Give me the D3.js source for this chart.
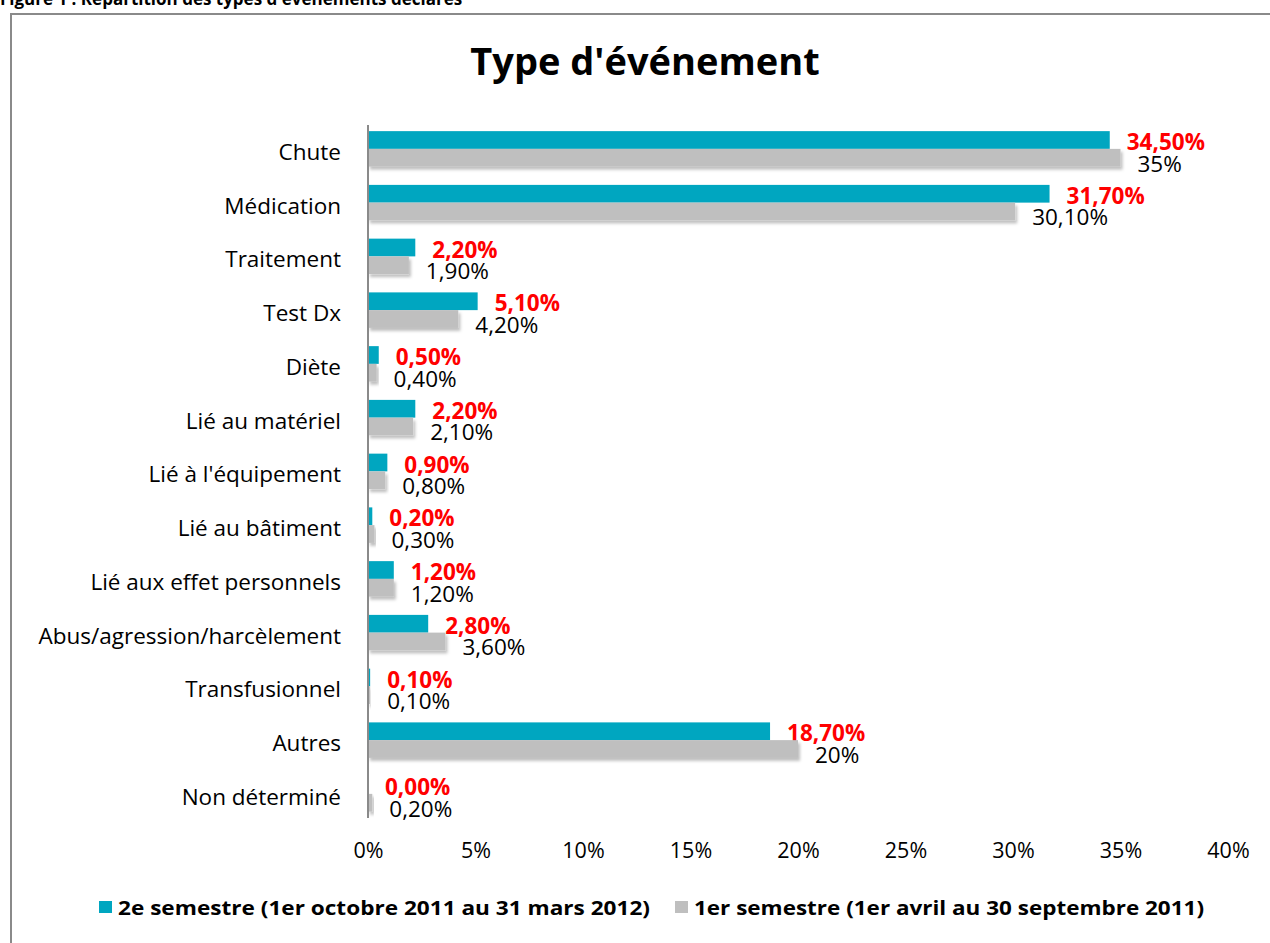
<!DOCTYPE html>
<html><head><meta charset="utf-8">
<script src="https://cdnjs.cloudflare.com/ajax/libs/d3/7.8.5/d3.min.js"></script>
<style>body{margin:0;background:#fff;}svg{display:block;}</style>
</head><body>
<script>
const categories = ["Chute","Médication","Traitement","Test Dx","Diète","Lié au matériel","Lié à l'équipement","Lié au bâtiment","Lié aux effet personnels","Abus/agression/harcèlement","Transfusionnel","Autres","Non déterminé"];
const semestre2 = [34.5,31.7,2.2,5.1,0.5,2.2,0.9,0.2,1.2,2.8,0.1,18.7,0.0];
const semestre1 = [35,30.1,1.9,4.2,0.4,2.1,0.8,0.3,1.2,3.6,0.1,20,0.2];
const labels2 = ["34,50%","31,70%","2,20%","5,10%","0,50%","2,20%","0,90%","0,20%","1,20%","2,80%","0,10%","18,70%","0,00%"];
const labels1 = ["35%","30,10%","1,90%","4,20%","0,40%","2,10%","0,80%","0,30%","1,20%","3,60%","0,10%","20%","0,20%"];
const tickValues = [0,5,10,15,20,25,30,35,40];
const seriesNames = ["2e semestre (1er octobre 2011 au 31 mars 2012)","1er semestre (1er avril au 30 septembre 2011)"];
const colors = ["#00A6C0","#BFBFBF"];

const W=1270,H=943;
const font="'Open Sans', sans-serif";
const svg=d3.select("body").append("svg").attr("width",W).attr("height",H);
const defs=svg.append("defs");
const f=defs.append("filter").attr("id","sh").attr("x","-10%").attr("y","-30%").attr("width","130%").attr("height","180%");
f.append("feDropShadow").attr("dx",2).attr("dy",3).attr("stdDeviation",1.5).attr("flood-color","#000").attr("flood-opacity",0.25);

// caption (clipped at top in reference)
svg.append("text").attr("x",0).attr("y",5).attr("font-family",font).attr("font-weight","bold").attr("font-size",17).text("Figure 1 : Répartition des types d'événements déclarés");
// frame
svg.append("rect").attr("x",11).attr("y",14).attr("width",1300).attr("height",1000).attr("fill","none").attr("stroke","#8a8a8a").attr("stroke-width",2);

svg.append("text").attr("x",645).attr("y",75).attr("text-anchor","middle").attr("font-family",font).attr("font-weight","bold").attr("font-size",38).text("Type d'événement");

const x=d3.scaleLinear().domain([0,40]).range([368,1228]);
const y=d3.scaleBand().domain(categories).range([122,122+13*53.75]).paddingInner(0.34).paddingOuter(0.17);
const ys=d3.scaleBand().domain([0,1]).range([0,y.bandwidth()]);

const g=svg.append("g");
categories.forEach((c,i)=>{
  const vals=[semestre2[i],semestre1[i]];
  const labs=[labels2[i],labels1[i]];
  vals.forEach((v,k)=>{
    g.append("rect").attr("x",x(0)).attr("y",y(c)+ys(k)).attr("width",Math.max(0,x(v)-x(0))).attr("height",ys.bandwidth())
     .attr("fill",colors[k]).attr("filter",k===1?"url(#sh)":null);
    g.append("text").attr("x",x(v)+17).attr("y",y(c)+ys(k)+ys.bandwidth()/2+(k===0?10:14))
     .attr("font-family",font).attr("font-size",22.5).attr("font-weight",k===0?"bold":"normal")
     .attr("fill",k===0?"#FF0000":"#000").text(labs[k]);
  });
  svg.append("text").attr("x",341).attr("y",y(c)+y.bandwidth()/2+11).attr("text-anchor","end")
    .attr("font-family",font).attr("font-size",22.5).text(c);
});
// axis line
svg.append("line").attr("x1",x(0)).attr("x2",x(0)).attr("y1",125).attr("y2",818).attr("stroke","#8a8a8a").attr("stroke-width",2);

const ax=svg.append("g").attr("transform","translate(0,840)").call(d3.axisBottom(x).tickValues(tickValues).tickSize(0).tickFormat(d=>d+"%"));
ax.select(".domain").remove();
ax.selectAll("text").attr("font-family",font).attr("font-size",21.5).attr("fill","#000").attr("dy","0.7em");

// legend
const lg=svg.append("g");
const lx=[99,675];
const lw=[532,510];
seriesNames.forEach((s,k)=>{
  lg.append("rect").attr("x",lx[k]).attr("y",901).attr("width",13).attr("height",12).attr("fill",colors[k]);
  lg.append("text").attr("x",lx[k]+19).attr("y",915).attr("font-family",font).attr("font-weight","bold").attr("font-size",20)
    .attr("textLength",lw[k]).attr("lengthAdjust","spacingAndGlyphs").text(s);
});
</script>
</body></html>
